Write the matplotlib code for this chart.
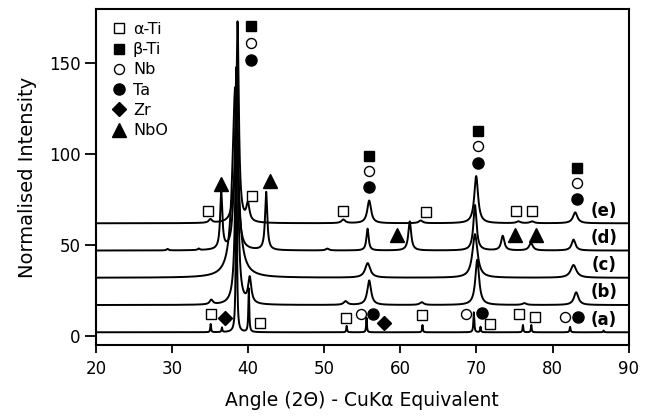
import numpy as np
import matplotlib
matplotlib.use('Agg')
import matplotlib.pyplot as plt
from matplotlib.lines import Line2D

plt.rcParams['font.family'] = ['DejaVu Sans']

# ---------------- data ----------------
trace_labels = ['(a)', '(b)', '(c)', '(d)', '(e)']
offsets = [2, 17, 32, 47, 62]

# peak lists: position (deg 2theta), height above baseline, FWHM (deg)
a_pos = [35.07, 36.55, 38.45, 40.08, 52.94, 55.55, 62.9, 69.65, 70.53, 76.1, 77.2, 82.3, 86.7]
a_hgt = [4.5, 2.5, 120, 24, 3.5, 8, 4, 11, 3, 4, 4, 3, 1]
a_wid = [0.12, 0.12, 0.15, 0.14, 0.12, 0.12, 0.12, 0.14, 0.12, 0.12, 0.12, 0.14, 0.12]

b_pos = [35.15, 38.5, 40.2, 52.8, 55.9, 62.8, 70.1, 76.3, 83.1]
b_hgt = [2.5, 110, 14, 2, 13.5, 1.5, 25, 1, 7]
b_wid = [0.5, 0.45, 0.5, 0.6, 0.6, 0.6, 0.6, 0.6, 0.7]

c_pos = [38.3, 55.7, 69.8, 82.75]
c_hgt = [105, 8, 24, 7]
c_wid = [0.9, 0.8, 0.8, 0.9]

d_pos = [29.4, 33.5, 36.46, 38.0, 38.45, 42.36, 50.4, 55.68, 61.23, 69.8, 73.45, 77.16, 82.75]
d_hgt = [0.8, 0.8, 31, 5, 100, 32, 1, 12, 16, 25, 8, 4, 6]
d_wid = [0.3, 0.3, 0.35, 0.4, 0.45, 0.35, 0.5, 0.35, 0.45, 0.5, 0.5, 0.6, 0.6]

e_pos = [35.03, 38.0, 38.6, 39.96, 52.5, 55.9, 62.67, 69.96, 75.5, 77.3, 82.97]
e_hgt = [2, 6, 110, 9.5, 2, 12.5, 1.5, 26, 1, 1, 6]
e_wid = [0.5, 0.5, 0.4, 0.5, 0.6, 0.6, 0.6, 0.6, 0.6, 0.6, 0.7]

# phase markers (2theta, normalised intensity)
alpha_x = [34.7, 40.5, 52.5, 63.3, 75.25, 77.3, 35.15, 41.5, 52.9, 62.8, 71.75, 75.55, 77.7]
alpha_y = [68.7, 77.3, 68.5, 68.1, 68.5, 68.5, 11.8, 7.1, 9.9, 11.4, 6.3, 11.8, 10.4]
beta_x = [40.35, 55.9, 70.2, 83.2]
beta_y = [170.7, 99.3, 112.6, 92.5]
nb_x = [40.35, 55.9, 70.2, 83.2, 54.8, 68.56, 81.6]
nb_y = [161.2, 90.9, 104.4, 84.1, 11.9, 12.3, 10.4]
ta_x = [40.35, 55.9, 70.2, 83.2, 56.4, 70.75, 83.4]
ta_y = [151.9, 81.9, 95.3, 75.5, 12.3, 12.6, 10.4]
zr_x = [36.9, 57.86]
zr_y = [9.9, 7.1]
nbo_x = [36.47, 42.8, 59.5, 75.0, 77.85]
nbo_y = [83.7, 85.5, 55.3, 55.3, 55.3]

phase_names = ['\u03b1-Ti', '\u03b2-Ti', 'Nb', 'Ta', 'Zr', 'NbO']

# ---------------- build patterns ----------------
two_theta = np.linspace(20, 90, 14001)

def pattern(pos, hgt, wid, base):
    y = np.full_like(two_theta, float(base))
    for p, h, w in zip(pos, hgt, wid):
        g = w / 2.0
        y += h * g**2 / ((two_theta - p)**2 + g**2)
    return y

peaks = [(a_pos, a_hgt, a_wid), (b_pos, b_hgt, b_wid), (c_pos, c_hgt, c_wid),
         (d_pos, d_hgt, d_wid), (e_pos, e_hgt, e_wid)]

fig = plt.figure(figsize=(6.46, 4.16), dpi=100)
ax = fig.add_axes([0.1486, 0.1707, 0.8246, 0.8077])

for (pos, hgt, wid), base, lab in zip(peaks, offsets, trace_labels):
    ax.plot(two_theta, pattern(pos, hgt, wid, base), color='black', lw=1.4)
    ax.text(86.7, base + 7, lab, fontsize=12, fontweight='bold',
            ha='center', va='center')

ms_kw = dict(ls='none', color='black', mec='black')
ax.plot(alpha_x, alpha_y, marker='s', ms=7.2, mfc='white', mew=1.0, **ms_kw)
ax.plot(beta_x, beta_y, marker='s', ms=7.0, mfc='black', **ms_kw)
ax.plot(nb_x, nb_y, marker='o', ms=7.2, mfc='white', mew=1.0, **ms_kw)
ax.plot(ta_x, ta_y, marker='o', ms=8.0, mfc='black', **ms_kw)
ax.plot(zr_x, zr_y, marker='D', ms=6.8, mfc='black', **ms_kw)
ax.plot(nbo_x, nbo_y, marker='^', ms=10.5, mfc='black', **ms_kw)

handles = [
    Line2D([], [], marker='s', ms=7.2, mfc='white', mew=1.0, **ms_kw),
    Line2D([], [], marker='s', ms=7.0, mfc='black', **ms_kw),
    Line2D([], [], marker='o', ms=7.2, mfc='white', mew=1.0, **ms_kw),
    Line2D([], [], marker='o', ms=8.0, mfc='black', **ms_kw),
    Line2D([], [], marker='D', ms=6.8, mfc='black', **ms_kw),
    Line2D([], [], marker='^', ms=10.5, mfc='black', **ms_kw),
]
ax.legend(handles, phase_names, loc='upper left', bbox_to_anchor=(0.0094, 0.99),
          frameon=False, fontsize=11.5, labelspacing=0.33, handlelength=1.0,
          handletextpad=0.4, borderaxespad=0.3, borderpad=0.3)

ax.set_xlim(20, 90)
ax.set_ylim(-5, 180)
ax.set_xticks([20, 30, 40, 50, 60, 70, 80, 90])
ax.set_yticks([0, 50, 100, 150])
ax.tick_params(axis='y', direction='out', length=8, width=1.3, labelsize=12, pad=3)
ax.tick_params(axis='x', direction='out', length=6, width=1.3, labelsize=12, pad=5)
for s in ax.spines.values():
    s.set_linewidth(1.5)

ax.set_xlabel('Angle (2\u0398) - CuK\u03b1 Equivalent', fontsize=13.5, labelpad=9)
ax.set_ylabel('Normalised Intensity', fontsize=14, labelpad=9)

fig.savefig('out.png', dpi=100)
